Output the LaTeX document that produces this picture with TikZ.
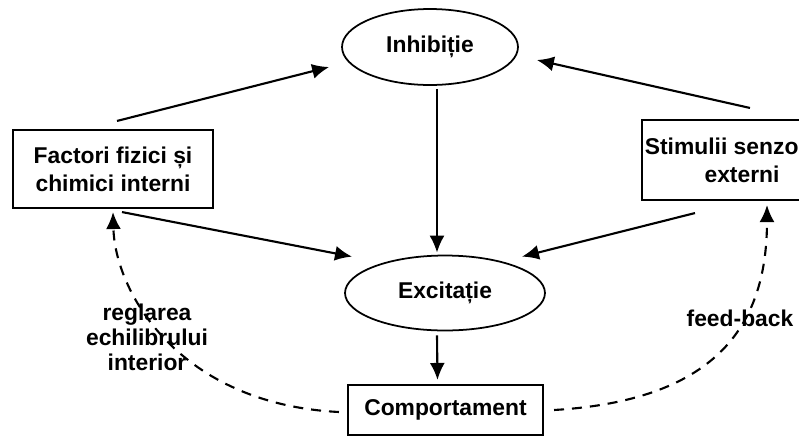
\documentclass[tikz,border=0pt]{standalone}
\usepackage{fontspec}
\setmainfont{Liberation Sans}
\usetikzlibrary{shapes.geometric,arrows.meta,calc}

\begin{document}
\begin{tikzpicture}[x=0.02cm,y=-0.02cm,
    font=\fontsize{13}{14.2}\selectfont\bfseries,
    caseta/.style={draw,line width=1.2pt,align=center,inner sep=0pt},
    elipsa/.style={draw,ellipse,line width=1pt,inner sep=0pt},
    sageata/.style={-{Latex[length=3.4mm,width=3mm]},line width=1.2pt},
    punctat/.style={sageata,dash pattern=on 2mm off 1.6mm}]
  \useasboundingbox (0,0) rectangle (799,437);
  \clip (0,0) rectangle (799,437);

  % noduri
  \node[elipsa,minimum width=3.52cm,minimum height=1.52cm] (inhib) at (430,47) {Inhibiție};
  \node[elipsa,minimum width=4cm,minimum height=1.5cm] (excit) at (445,293) {Excitație};
  \node[caseta,minimum width=4cm,minimum height=1.56cm,
        font=\fontsize{13}{16}\selectfont\bfseries] (factori) at (113,169)
       {Factori fizici și\\chimici interni};
  \node[caseta,minimum width=4cm,minimum height=1.6cm,
        font=\fontsize{13}{16}\selectfont\bfseries] (stimuli) at (742,160)
       {Stimulii senzoriali\\externi};
  \node[caseta,minimum width=3.9cm,minimum height=1cm] (comp) at (445.5,410) {Comportament};

  % etichete
  \node[align=center] (reglare) at (147,337) {reglarea\\echilibrului\\interior};
  \node (feedback) at (740,318) {feed-back};

  % sageti
  \draw[sageata] ($(factori.north)+(4,-8)$) -- ($(inhib.west)+(-12,20)$);
  \draw[sageata] ($(stimuli.north)+(8,-11)$) -- ($(inhib.east)+(18,13)$);
  \draw[sageata] ($(inhib.south)+(7,3)$) -- ($(excit.north)+(-8,-2)$);
  \draw[sageata] ($(factori.south)+(9,3)$) -- ($(excit.north)+(-93,2)$);
  \draw[sageata] ($(stimuli.south)+(-47,12)$) -- ($(excit.north)+(77,2)$);
  \draw[sageata] ($(excit.south)+(-8,4)$) -- ($(comp.north)+(-8,-4)$);

  % legaturi inverse
  \draw[punctat] ($(comp.west)+(-8,2)$) .. controls +(-160,-8) and +(2,80) .. ($(factori.south)+(0,3)$);
  \draw[punctat] ($(comp.east)+(10,0)$) .. controls +(167,-10) and +(0,116) .. ($(stimuli.south)+(25,4)$);
\end{tikzpicture}
\end{document}
